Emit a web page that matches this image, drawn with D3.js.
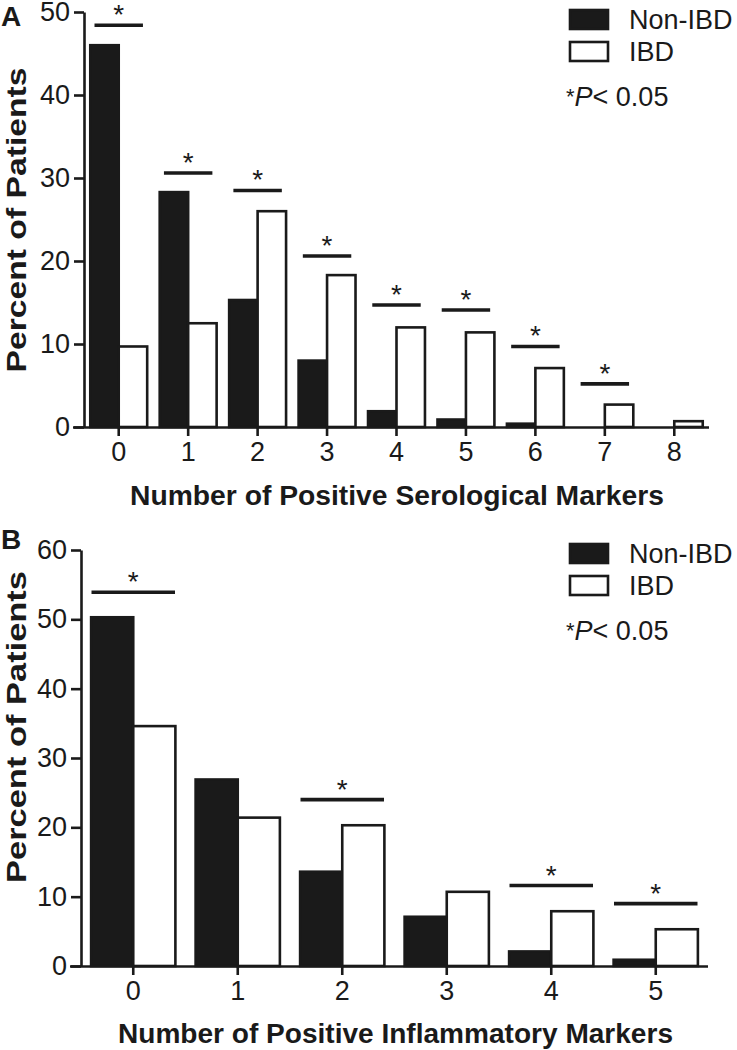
<!DOCTYPE html>
<html>
<head>
<meta charset="utf-8">
<script src="https://cdn.jsdelivr.net/npm/d3@7"></script>
<style>
  html, body { margin: 0; padding: 0; background: #fff; }
  svg { display: block; font-family: "Liberation Sans", Arial, Helvetica, sans-serif; }
</style>
</head>
<body>
<svg id="chart" width="737" height="1050"></svg>
<script>
// ---------- Data ----------
const seriesNames = ["Non-IBD", "IBD"];

const catsA = ["0", "1", "2", "3", "4", "5", "6", "7", "8"];
const nonIbdA = [46.0, 28.3, 15.3, 8.0, 1.9, 0.9, 0.4, 0, 0];
const ibdA = [9.7, 12.5, 26.0, 18.3, 12.0, 11.4, 7.1, 2.7, 0.7];
const sigA = [48.4, 30.6, 28.5, 20.6, 14.7, 14.1, 9.7, 5.2, null];
const yTicksA = [0, 10, 20, 30, 40, 50];

const catsB = ["0", "1", "2", "3", "4", "5"];
const nonIbdB = [50.3, 26.9, 13.6, 7.1, 2.1, 0.9];
const ibdB = [34.6, 21.4, 20.3, 10.7, 7.9, 5.3];
const sigB = [53.9, null, 24.0, null, 11.6, 9.0];
const yTicksB = [0, 10, 20, 30, 40, 50, 60];

const yTitle = "Percent of Patients";
const xTitleA = "Number of Positive Serological Markers";
const xTitleB = "Number of Positive Inflammatory Markers";
const pNote = ["*", "P", "< 0.05"];

// ---------- Drawing ----------
const svg = d3.select("#chart");

function panel(cfg) {
  const g = svg.append("g");
  const x = d3.scaleBand().domain(cfg.cats).range([cfg.left, cfg.right]).padding(0);
  const inner = d3.scaleBand().domain(seriesNames).range([0, x.bandwidth()])
    .paddingInner(0).paddingOuter(cfg.groupPad);
  const y = d3.scaleLinear().domain([0, cfg.yMax]).range([cfg.bottom, cfg.top]);

  // bars
  const rows = cfg.cats.map((c, i) => ({ c, vals: [cfg.non[i], cfg.ibd[i]] }));
  const grp = g.selectAll("g.grp").data(rows).join("g")
    .attr("transform", d => `translate(${x(d.c)},0)`);
  grp.selectAll("rect").data(d => d.vals.map((v, j) => ({ v, s: seriesNames[j] })))
    .join("rect")
    .filter(d => d.v > 0)
    .attr("x", d => inner(d.s))
    .attr("width", inner.bandwidth())
    .attr("y", d => y(d.v))
    .attr("height", d => y(0) - y(d.v))
    .attr("fill", d => d.s === "IBD" ? "#fff" : "#1a1a1a")
    .attr("stroke", "#1a1a1a")
    .attr("stroke-width", 2.6);

  // significance bars + stars
  cfg.cats.forEach((c, i) => {
    const s = cfg.sig[i];
    if (s == null) return;
    const x0 = x(c) + cfg.sigInset, x1 = x(c) + x.bandwidth() - cfg.sigInset;
    g.append("line").attr("x1", x0).attr("x2", x1)
      .attr("y1", y(s)).attr("y2", y(s))
      .attr("stroke", "#1a1a1a").attr("stroke-width", 3.6);
    g.append("text").attr("x", (x0 + x1) / 2).attr("y", y(s) - 1)
      .attr("text-anchor", "middle").attr("font-size", 28).attr("fill", "#1a1a1a")
      .text("*");
  });

  // y axis
  const ya = g.append("g").attr("transform", `translate(${cfg.left},0)`)
    .call(d3.axisLeft(y).tickValues(cfg.yTicks).tickSize(10).tickSizeOuter(0).tickPadding(4));
  ya.selectAll("path, line").attr("stroke", "#1a1a1a").attr("stroke-width", 2.6);
  ya.selectAll("text").attr("font-size", 27).attr("fill", "#1a1a1a")
    .attr("font-family", "'Liberation Sans', Arial, sans-serif");

  // x axis
  const xa = g.append("g").attr("transform", `translate(0,${cfg.bottom})`)
    .call(d3.axisBottom(x).tickSize(9).tickSizeOuter(0).tickPadding(6));
  xa.selectAll("path, line").attr("stroke", "#1a1a1a").attr("stroke-width", 2.6);
  xa.select("path.domain").attr("d", `M${cfg.left - 11},0.5H${cfg.right}`);
  xa.selectAll("text").attr("font-size", 27).attr("fill", "#1a1a1a")
    .attr("font-family", "'Liberation Sans', Arial, sans-serif");

  // axis titles
  g.append("text").attr("x", (cfg.xTitleL + cfg.xTitleR) / 2).attr("y", cfg.xTitleY)
    .attr("text-anchor", "middle").attr("font-weight", "bold").attr("font-size", 27)
    .attr("fill", "#1a1a1a")
    .attr("textLength", cfg.xTitleR - cfg.xTitleL).attr("lengthAdjust", "spacingAndGlyphs")
    .text(cfg.xTitle);
  g.append("text").attr("transform", `translate(${cfg.yTitleX},${cfg.yTitleC}) rotate(-90)`)
    .attr("text-anchor", "middle").attr("font-weight", "bold").attr("font-size", 27)
    .attr("fill", "#1a1a1a")
    .attr("textLength", cfg.yTitleLen).attr("lengthAdjust", "spacingAndGlyphs")
    .text(yTitle);

  // panel letter
  g.append("text").attr("x", 1).attr("y", cfg.letterY).attr("font-weight", "bold")
    .attr("font-size", 28).attr("fill", "#1a1a1a").text(cfg.letter);

  // legend
  const lg = g.append("g");
  seriesNames.forEach((s, j) => {
    const ty = cfg.legTop + j * 32;
    lg.append("rect").attr("x", 570).attr("y", ty).attr("width", 38).attr("height", 19)
      .attr("fill", s === "IBD" ? "#fff" : "#1a1a1a").attr("stroke", "#1a1a1a").attr("stroke-width", 2.6);
    lg.append("text").attr("x", 629).attr("y", ty + 19).attr("font-size", 27).attr("fill", "#1a1a1a")
      .text(s);
  });
  const pt = lg.append("text").attr("x", 566).attr("y", cfg.legTop + 96)
    .attr("font-size", 27).attr("fill", "#1a1a1a");
  pt.append("tspan").attr("font-size", 22).attr("dy", -2).text(pNote[0]);
  pt.append("tspan").attr("font-style", "italic").attr("dy", 2).text(pNote[1]);
  pt.append("tspan").text(pNote[2]);
}

panel({
  letter: "A", letterY: 26,
  cats: catsA, non: nonIbdA, ibd: ibdA, sig: sigA, yTicks: yTicksA, yMax: 50,
  left: 84, right: 709, top: 12, bottom: 427, groupPad: 0.22, sigInset: 10.5,
  xTitle: xTitleA, xTitleL: 130, xTitleR: 664, xTitleY: 505,
  yTitleX: 26, yTitleC: 220, yTitleLen: 305,
  legTop: 10
});

panel({
  letter: "B", letterY: 549,
  cats: catsB, non: nonIbdB, ibd: ibdB, sig: sigB, yTicks: yTicksB, yMax: 60,
  left: 81, right: 708, top: 550, bottom: 966, groupPad: 0.24, sigInset: 10.5,
  xTitle: xTitleB, xTitleL: 118, xTitleR: 673, xTitleY: 1043,
  yTitleX: 26, yTitleC: 727, yTitleLen: 312,
  legTop: 544
});
</script>
</body>
</html>
